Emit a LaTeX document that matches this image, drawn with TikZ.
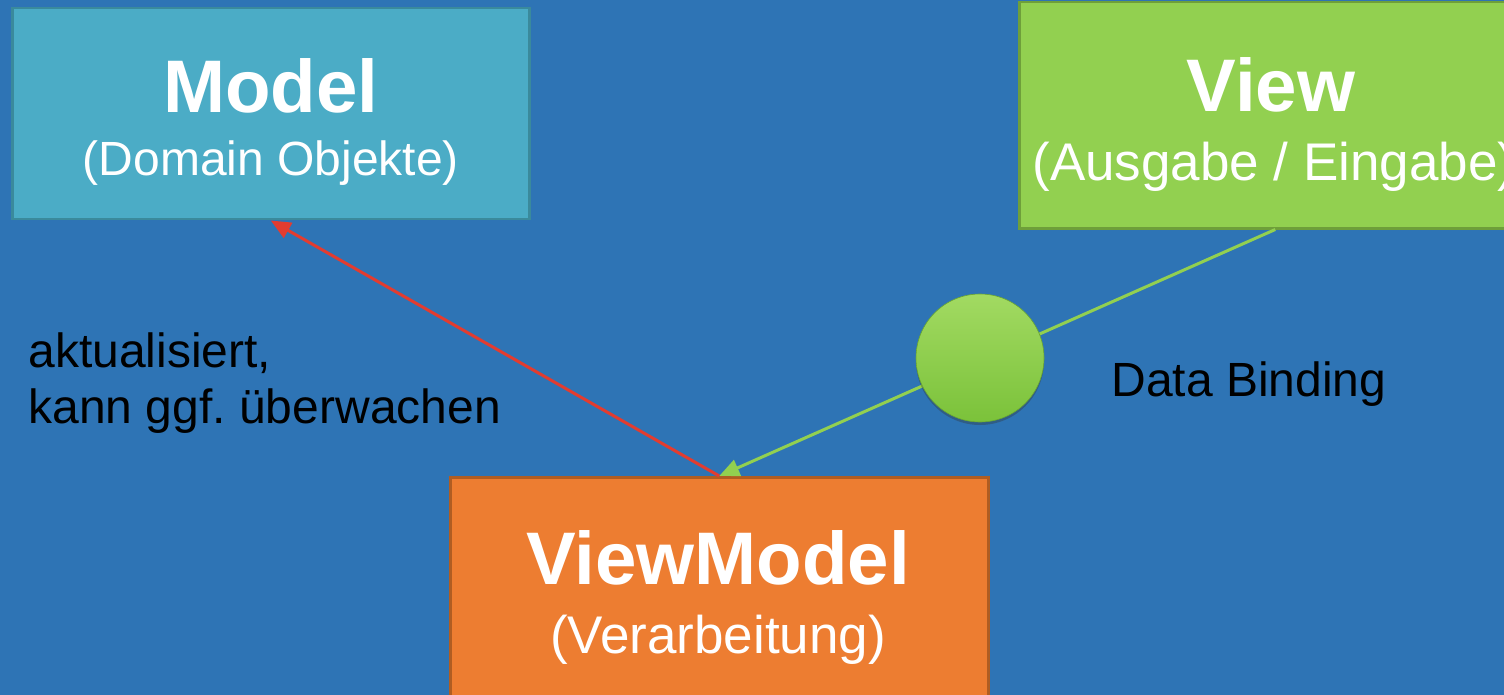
\documentclass[tikz,border=0pt]{standalone}
\usepackage{fontspec}
\setmainfont{Liberation Sans}
\usetikzlibrary{arrows.meta,shadows}
\frenchspacing
\definecolor{bg}{HTML}{2E74B5}
\definecolor{modelfill}{HTML}{4BACC6}
\definecolor{modelline}{HTML}{3A8A9C}
\definecolor{viewfill}{HTML}{92D050}
\definecolor{viewline}{HTML}{6E9F3A}
\definecolor{vmfill}{HTML}{ED7D31}
\definecolor{vmline}{HTML}{B05D22}
\definecolor{redline}{HTML}{E23C30}
\definecolor{greenline}{HTML}{92D050}
\definecolor{balltop}{HTML}{A2DA62}
\definecolor{ballbot}{HTML}{7BC23A}
\tikzset{
  box/.style={draw, line width=2.5pt, rectangle, inner sep=0pt, anchor=north west},
  title/.style={anchor=base, text=white, font=\bfseries\fontsize{74.5}{80}\selectfont},
  subtitle/.style={anchor=base, text=white, font=\fontsize{48}{56}\selectfont},
  bigsub/.style={subtitle, font=\fontsize{53}{60}\selectfont},
  label/.style={anchor=base west, text=black, font=\fontsize{48}{56}\selectfont},
  link/.style={line width=3pt, -{Triangle[length=20pt,width=17pt]}}
}
\begin{document}
\begin{tikzpicture}[x=1pt,y=-1pt]
  % canvas
  \fill[bg] (0,0) rectangle (1504,695);
  \useasboundingbox (0,0) rectangle (1504,695);

  % the three boxes
  \node[box, fill=modelfill, draw=modelline, minimum width=517pt, minimum height=211pt] (model) at (11,7) {};
  \node[box, fill=viewfill, draw=viewline, minimum width=512pt, minimum height=226pt] (view) at (1018,1) {};
  \node[box, fill=vmfill, draw=vmline, minimum width=538pt, minimum height=240pt] (vm) at (449,476) {};

  % box texts
  \node[title] (modelT) at (271,113) {Model};
  \node[subtitle] (modelS) at (271,176) {(Domain Objekte)};
  \node[title] (viewT) at (1271,112) {View};
  \node[bigsub] (viewS) at (1274,181) {(Ausgabe / Eingabe)};
  \node[title] (vmT) at (718,584) {ViewModel};
  \node[bigsub] (vmS) at (718,653) {(Verarbeitung)};

  % connectors
  \draw[link, redline] (vm.north) -- (model.south);
  \draw[link, greenline] (view.south) -- (vm.north);

  % data binding ball
  \node[circle, minimum size=128pt, inner sep=0pt, top color=balltop, bottom color=ballbot,
        draw=ballbot!85!black, line width=0.6pt,
        drop shadow={shadow xshift=0pt, shadow yshift=-3pt, opacity=0.35, fill=black!80}] (ball) at (980,358) {};

  % labels
  \node[label] (upd1) at (25,367) {aktualisiert,};
  \node[label] (upd2) at (25,423) {kann ggf. überwachen};
  \node[label] (bind) at (1108,396) {Data Binding};
\end{tikzpicture}
\end{document}
